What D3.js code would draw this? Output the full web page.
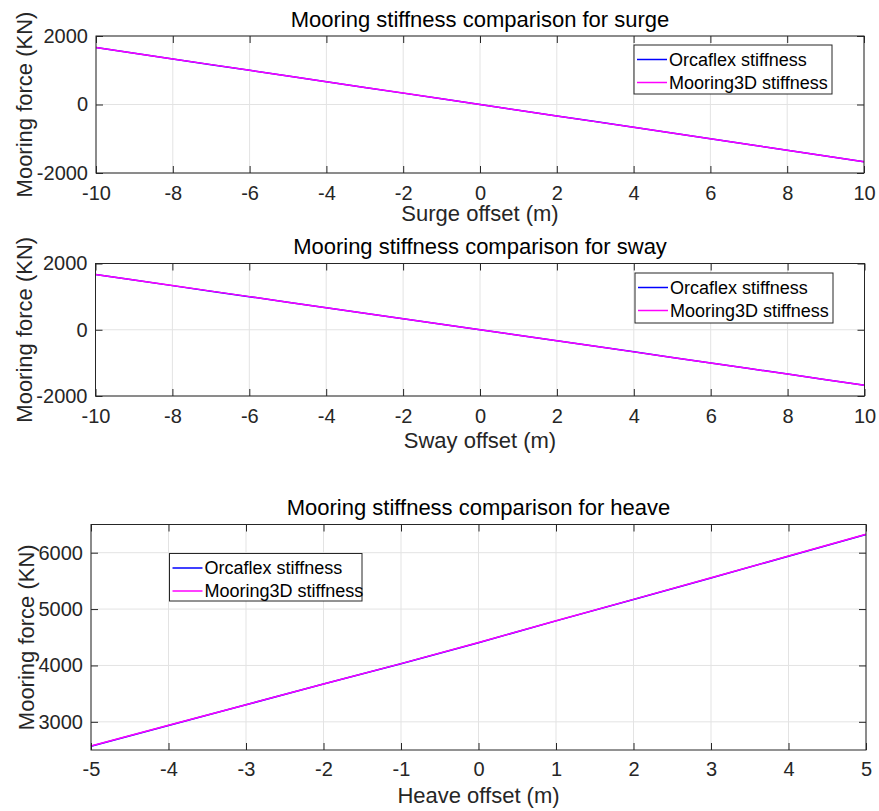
<!DOCTYPE html>
<html>
<head>
<meta charset="utf-8">
<script src="https://cdn.jsdelivr.net/npm/d3@7"></script>
<style>
  html, body { margin: 0; padding: 0; background: #fff; }
  svg { display: block; }
  text { font-family: "Liberation Sans", Arial, Helvetica, sans-serif; }
</style>
</head>
<body>
<svg id="chart" width="879" height="811"></svg>
<script>
// ---------------- DATA ----------------
const surgeOffset = [-10,-9,-8,-7,-6,-5,-4,-3,-2,-1,0,1,2,3,4,5,6,7,8,9,10];
const surgeOrcaflex  = [1662,1495,1330,1163,997,831,665,498,332,166,0,-166,-333,-499,-666,-833,-1000,-1168,-1336,-1505,-1672];
const surgeMooring3D = [1664,1497,1331,1164,998,832,666,499,333,166,0,-166,-333,-500,-667,-834,-1001,-1169,-1337,-1506,-1673];

const swayOffset = [-10,-9,-8,-7,-6,-5,-4,-3,-2,-1,0,1,2,3,4,5,6,7,8,9,10];
const swayOrcaflex  = [1666,1499,1332,1165,999,832,666,499,333,166,0,-166,-333,-500,-667,-835,-1002,-1170,-1338,-1507,-1675];
const swayMooring3D = [1668,1500,1333,1166,1000,833,666,500,333,167,0,-167,-334,-501,-668,-836,-1003,-1171,-1339,-1508,-1676];

const heaveOffset = [-5,-4,-3,-2,-1,0,1,2,3,4,5];
const heaveOrcaflex  = [2568,2936,3302,3670,4030,4404,4790,5170,5552,5938,6324];
const heaveMooring3D = [2570,2938,3304,3672,4032,4406,4792,5172,5554,5940,6326];

const surgeXTicks = [-10,-8,-6,-4,-2,0,2,4,6,8,10];
const surgeYTicks = [-2000,0,2000];
const swayXTicks  = [-10,-8,-6,-4,-2,0,2,4,6,8,10];
const swayYTicks  = [-2000,0,2000];
const heaveXTicks = [-5,-4,-3,-2,-1,0,1,2,3,4,5];
const heaveYTicks = [3000,4000,5000,6000];

const seriesNames  = ["Orcaflex stiffness", "Mooring3D stiffness"];
const seriesColors = ["#0000ff", "#ff00ff"];

// ---------------- LAYOUT ----------------
const panels = [
  { title: "Mooring stiffness comparison for surge", xlabel: "Surge offset (m)",
    x: surgeOffset, ys: [surgeOrcaflex, surgeMooring3D],
    xDom: [-10, 10], yDom: [-2000, 2000], xTicks: surgeXTicks, yTicks: surgeYTicks,
    left: 96, right: 864, top: 36, bottom: 173,
    titleY: 26.5, tickY: 200, labelY: 221, ylabelX: 31.5,
    legend: { x: 634, y: 45, w: 198, h: 49 } },
  { title: "Mooring stiffness comparison for sway", xlabel: "Sway offset (m)",
    x: swayOffset, ys: [swayOrcaflex, swayMooring3D],
    xDom: [-10, 10], yDom: [-2000, 2000], xTicks: swayXTicks, yTicks: swayYTicks,
    left: 95.5, right: 864.5, top: 263.5, bottom: 396,
    titleY: 253.5, tickY: 423, labelY: 447.5, ylabelX: 31.5,
    legend: { x: 635, y: 273, w: 198, h: 50 } },
  { title: "Mooring stiffness comparison for heave", xlabel: "Heave offset (m)",
    x: heaveOffset, ys: [heaveOrcaflex, heaveMooring3D],
    xDom: [-5, 5], yDom: [2500, 6500], xTicks: heaveXTicks, yTicks: heaveYTicks,
    left: 91, right: 866, top: 524.5, bottom: 750,
    titleY: 515, tickY: 775.5, labelY: 803, ylabelX: 33.5,
    legend: { x: 169.5, y: 553.5, w: 192.5, h: 47.5 } }
];

const svg = d3.select("#chart");
const axisColor = "#262626";
const gridColor = "#e3e3e3";
const tickLen = 7;
const fmt = d => String(d);   // plain hyphen-minus, as in the reference

panels.forEach(p => {
  const xs = d3.scaleLinear().domain(p.xDom).range([p.left, p.right]);
  const ys = d3.scaleLinear().domain(p.yDom).range([p.bottom, p.top]);
  const g = svg.append("g");

  // grid
  g.append("g").selectAll("line").data(p.xTicks).join("line")
    .attr("x1", d => xs(d)).attr("x2", d => xs(d))
    .attr("y1", p.top).attr("y2", p.bottom)
    .attr("stroke", gridColor).attr("stroke-width", 1);
  g.append("g").selectAll("line").data(p.yTicks).join("line")
    .attr("x1", p.left).attr("x2", p.right)
    .attr("y1", d => ys(d)).attr("y2", d => ys(d))
    .attr("stroke", gridColor).attr("stroke-width", 1);

  // lines
  const line = d3.line().x((d, i) => xs(p.x[i])).y(d => ys(d));
  p.ys.forEach((vals, si) => {
    g.append("path").datum(vals)
      .attr("d", line).attr("fill", "none")
      .attr("stroke", seriesColors[si]).attr("stroke-width", 1.5);
  });

  // axes
  const styleAxis = sel => {
    sel.select(".domain").remove();
    sel.selectAll(".tick line").attr("stroke", axisColor).attr("stroke-width", 1);
    sel.selectAll(".tick text").attr("fill", axisColor).style("font-size", "20px");
  };
  const xB = g.append("g").attr("transform", `translate(0,${p.bottom})`)
    .call(d3.axisBottom(xs).tickValues(p.xTicks).tickFormat(fmt).tickSizeInner(-tickLen).tickSizeOuter(0).tickPadding(p.tickY - p.bottom - 14.2));
  styleAxis(xB);
  const xT = g.append("g").attr("transform", `translate(0,${p.top})`)
    .call(d3.axisTop(xs).tickValues(p.xTicks).tickFormat("").tickSizeInner(-tickLen).tickSizeOuter(0));
  styleAxis(xT);
  const yL = g.append("g").attr("transform", `translate(${p.left},0)`)
    .call(d3.axisLeft(ys).tickValues(p.yTicks).tickFormat(fmt).tickSizeInner(-tickLen).tickSizeOuter(0).tickPadding(8));
  styleAxis(yL);
  const yR = g.append("g").attr("transform", `translate(${p.right},0)`)
    .call(d3.axisRight(ys).tickValues(p.yTicks).tickFormat("").tickSizeInner(-tickLen).tickSizeOuter(0));
  styleAxis(yR);

  // box
  g.append("rect").attr("x", p.left).attr("y", p.top)
    .attr("width", p.right - p.left).attr("height", p.bottom - p.top)
    .attr("fill", "none").attr("stroke", axisColor).attr("stroke-width", 1);

  // title
  g.append("text").attr("x", (p.left + p.right) / 2).attr("y", p.titleY)
    .attr("text-anchor", "middle").style("font-size", "22px").attr("fill", "#000")
    .text(p.title);
  // x label
  g.append("text").attr("x", (p.left + p.right) / 2).attr("y", p.labelY)
    .attr("text-anchor", "middle").style("font-size", "22px").attr("fill", axisColor)
    .text(p.xlabel);
  // y label
  g.append("text")
    .attr("transform", `translate(${p.ylabelX},${(p.top + p.bottom) / 2}) rotate(-90)`)
    .attr("text-anchor", "middle").style("font-size", "22px").attr("fill", axisColor)
    .text("Mooring force (KN)");

  // legend
  const L = p.legend;
  const lg = g.append("g");
  lg.append("rect").attr("x", L.x).attr("y", L.y).attr("width", L.w).attr("height", L.h)
    .attr("fill", "#fff").attr("stroke", axisColor).attr("stroke-width", 1);
  seriesNames.forEach((name, i) => {
    const cy = L.y + 14.5 + i * 23;
    lg.append("line").attr("x1", L.x + 3).attr("x2", L.x + 33)
      .attr("y1", cy).attr("y2", cy)
      .attr("stroke", seriesColors[i]).attr("stroke-width", 1.5);
    lg.append("text").attr("x", L.x + 35).attr("y", cy).attr("dy", "0.35em")
      .style("font-size", "18px").attr("fill", "#000").text(name);
  });
});
</script>
</body>
</html>
